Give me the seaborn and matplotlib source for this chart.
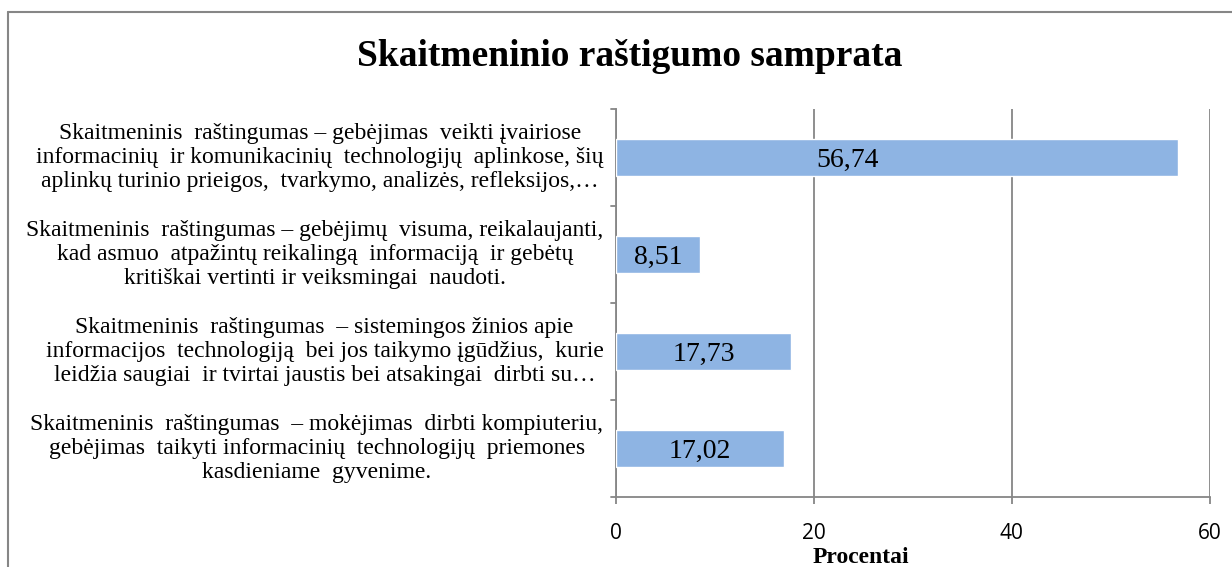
import matplotlib
matplotlib.use("Agg")
import matplotlib.pyplot as plt
import matplotlib.transforms as mtransforms
import seaborn as sns
import pandas as pd
from matplotlib.lines import Line2D

categories = [
    "Skaitmeninis  raštingumas – gebėjimas  veikti įvairiose\ninformacinių  ir komunikacinių  technologijų  aplinkose, šių\naplinkų turinio prieigos,  tvarkymo, analizės, refleksijos,…",
    "Skaitmeninis  raštingumas – gebėjimų  visuma, reikalaujanti,\nkad asmuo  atpažintų reikalingą  informaciją  ir gebėtų\nkritiškai vertinti ir veiksmingai  naudoti.",
    "Skaitmeninis  raštingumas  – sistemingos žinios apie\ninformacijos  technologiją  bei jos taikymo įgūdžius,  kurie\nleidžia saugiai  ir tvirtai jaustis bei atsakingai  dirbti su…",
    "Skaitmeninis  raštingumas  – mokėjimas  dirbti kompiuteriu,\ngebėjimas  taikyti informacinių  technologijų  priemones\nkasdieniame  gyvenime.",
]
values = [56.74, 8.51, 17.73, 17.02]
value_labels = ["56,74", "8,51", "17,73", "17,02"]
label_x = [23.4, 4.25, 8.87, 8.51]
xticks = [0, 20, 40, 60]

title = "Skaitmeninio raštigumo samprata"
xlabel = "Procentai"

sns.set_theme(style="white")
plt.rcParams['font.family'] = ['Liberation Serif', 'DejaVu Serif']

fig = plt.figure(figsize=(12.32, 5.67), dpi=100)
ax = fig.add_axes([0.5, 0.1235, 0.482, 0.6843])

df = pd.DataFrame({"cat": categories, "val": values})
sns.barplot(data=df, x="val", y="cat", orient="h", color="#8EB4E3",
            saturation=1, width=0.39, ax=ax, zorder=3)

gray = "#868686"
ax.set_xlim(0, 60)
ax.set_ylim(3.5, -0.5)
ax.set_xticks(xticks)
ax.set_xticklabels([str(t) for t in xticks], family="Open Sans", fontsize=15, color="black")
ax.tick_params(axis="x", length=5, width=1.3, color=gray, pad=14, direction="out", bottom=True)
ax.tick_params(axis="y", length=0, pad=9)
shift = mtransforms.ScaledTranslation(0, 4 / 100, fig.dpi_scale_trans)
for lbl in ax.get_yticklabels():
    lbl.set_multialignment("center")
    lbl.set_fontsize(17)
    lbl.set_color("black")
    lbl.set_linespacing(1.17)
    lbl.set_transform(lbl.get_transform() + shift)

# category boundary ticks on the y axis
for b in [-0.5, 0.5, 1.5, 2.5, 3.5]:
    ax.add_line(Line2D([-0.5, 0], [b, b], color=gray, lw=1.3, clip_on=False, zorder=4))

ax.grid(axis="x", color=gray, lw=1.3, zorder=0)
ax.grid(axis="y", visible=False)
for s in ["top", "right"]:
    ax.spines[s].set_visible(False)
for s in ["left", "bottom"]:
    ax.spines[s].set_color(gray)
    ax.spines[s].set_linewidth(1.3)
ax.set_xlabel("")
ax.set_ylabel("")

for i, (x, t) in enumerate(zip(label_x, value_labels)):
    ax.text(x, i + 0.03, t, ha="center", va="center", fontsize=20, color="black", zorder=5)

fig.text(0.511, 0.9, title, ha="center", va="center", fontsize=27, fontweight="bold", color="black")
fig.text(0.699, 0.0176, xlabel, ha="center", va="center", fontsize=17, fontweight="bold", color="black")

# outer chart frame
fig.add_artist(Line2D([8 / 1232, 1], [1 - 12 / 567, 1 - 12 / 567], color=gray, lw=1.5,
                      transform=fig.transFigure))
fig.add_artist(Line2D([8 / 1232, 8 / 1232], [0, 1 - 12 / 567], color=gray, lw=1.5,
                      transform=fig.transFigure))

fig.savefig("out.png", dpi=100, facecolor="white")
